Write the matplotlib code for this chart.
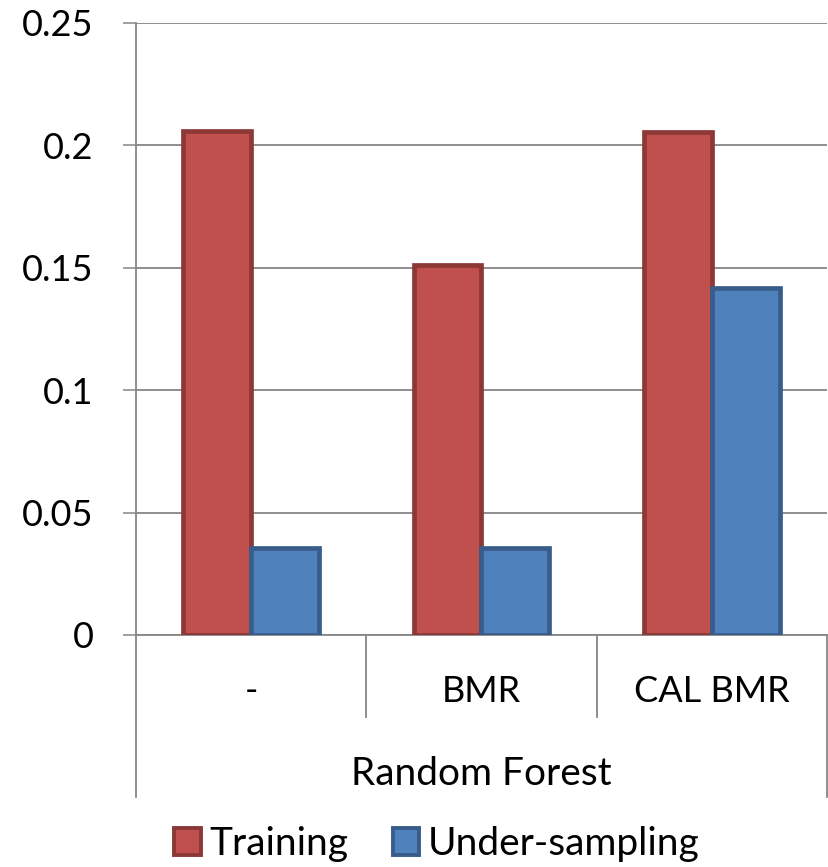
import matplotlib.pyplot as plt
import matplotlib.patches as mpatches
import matplotlib.transforms as mtransforms
import numpy as np

plt.rcParams["font.family"] = ["Lato", "DejaVu Sans"]

# Données
categories = ["-", "BMR", "CAL BMR"]
groupe = "Random Forest"
training = [0.206, 0.151, 0.2055]
under_sampling = [0.0355, 0.0355, 0.1417]
yticks = [0, 0.05, 0.1, 0.15, 0.2, 0.25]
ytick_labels = ["0", "0.05", "0.1", "0.15", "0.2", "0.25"]

ROUGE, ROUGE_BORD = "#C0504D", "#8C3836"
BLEU, BLEU_BORD = "#4F81BD", "#385D8A"
GRIS = "#868686"
FS = 26
FS_TEXTE = 28

W, H = 829, 867
fig = plt.figure(figsize=(W / 100, H / 100), dpi=100)
ax = fig.add_axes([136 / W, (H - 635) / H, (827 - 136) / W, (635 - 23) / H])

x = np.arange(len(categories))
largeur = 0.295
ax.bar(x - largeur / 2, training, largeur, color=ROUGE, edgecolor=ROUGE_BORD,
       linewidth=3.4, zorder=3)
ax.bar(x + largeur / 2, under_sampling, largeur, color=BLEU, edgecolor=BLEU_BORD,
       linewidth=3.4, zorder=3)

ax.set_xlim(-0.5, len(categories) - 0.5)
ax.set_ylim(0, 0.25)
ax.set_yticks(yticks)
ax.set_yticklabels(ytick_labels, fontsize=FS)
ax.yaxis.grid(True, color=GRIS, linewidth=1.3, zorder=0)
ax.tick_params(axis="y", length=9.5, width=1.1, color=GRIS, pad=21)
ax.set_xticks([])

for cote in ("top", "right"):
    ax.spines[cote].set_visible(False)
ax.spines["left"].set_color(GRIS)
ax.spines["left"].set_linewidth(1.3)
ax.spines["bottom"].set_color(GRIS)
ax.spines["bottom"].set_linewidth(1.3)

# Axe des catégories à deux niveaux
trans = mtransforms.blended_transform_factory(ax.transData, fig.transFigure)
y0 = (H - 635) / H
y_interne = (H - 717) / H
y_externe = (H - 797) / H
for xs in np.arange(-0.5, len(categories), 1.0):
    bas = y_externe if xs in (-0.5, len(categories) - 0.5) else y_interne
    fig.add_artist(plt.Line2D([xs, xs], [y0, bas], transform=trans,
                              color=GRIS, linewidth=1.3))

for xi, nom in zip(x, categories):
    fig.text(xi, (H - 692) / H, nom, transform=trans, fontsize=FS,
             ha="center", va="center")
fig.text(np.mean(x), (H - 774) / H, groupe, transform=trans, fontsize=FS_TEXTE,
         ha="center", va="center")

# Légende
poignees = [
    mpatches.Patch(facecolor=ROUGE, edgecolor=ROUGE_BORD, linewidth=2.8, label="Training"),
    mpatches.Patch(facecolor=BLEU, edgecolor=BLEU_BORD, linewidth=2.8, label="Under-sampling"),
]
fig.legend(handles=poignees, loc="center", bbox_to_anchor=(0.527, (H - 844) / H),
           ncol=2, frameon=False, fontsize=FS_TEXTE, handlelength=0.68,
           handleheight=0.68, handletextpad=0.22, columnspacing=1.15)

fig.savefig("out.png", dpi=100)
